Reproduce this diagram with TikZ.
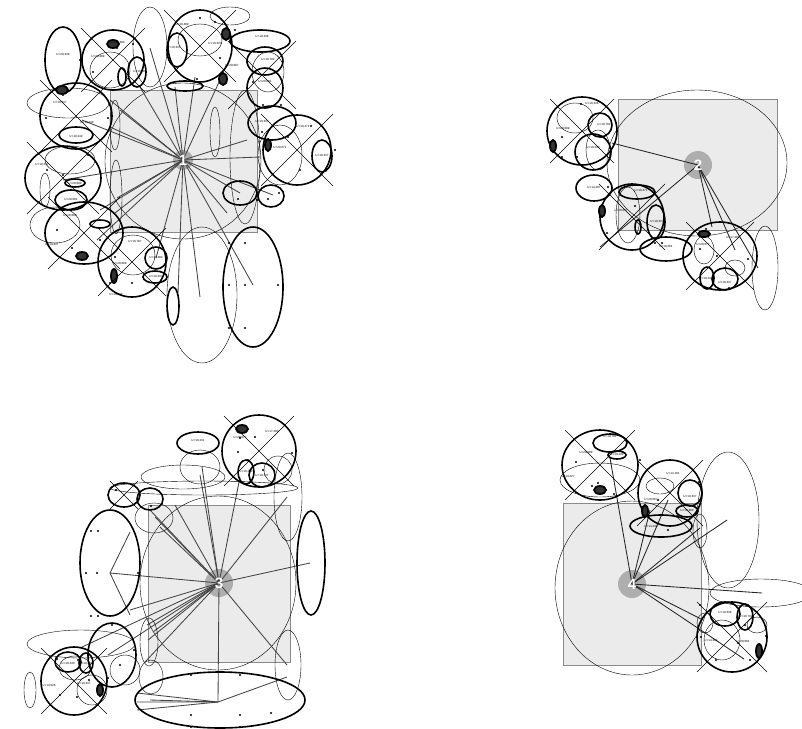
\documentclass[tikz,border=0pt]{standalone}
\usepackage{fontspec}
\setmainfont{Liberation Sans}
\definecolor{sqfill}{HTML}{EBEBEB}
\definecolor{sqline}{HTML}{8A8A8A}
\definecolor{hub}{HTML}{AEAEAE}
\definecolor{ray}{HTML}{454545}
\definecolor{thin}{HTML}{3A3A3A}
\newcommand\ellK[4]{\draw[tk] (#1,#2) ellipse (#3pt and #4pt);}
\newcommand\ellT[4]{\draw[tn] (#1,#2) ellipse (#3pt and #4pt);}
\newcommand\dotD[2]{\fill (#1,#2) circle (1.1pt);}
\newcommand\ringD[4]{\draw[line width=1.8pt,fill=black!80] (#1,#2) ellipse (#3pt and #4pt);}
\newcommand\crossX[3]{\draw[cr] ({#1-#3},{#2-#3}) -- ({#1+#3},{#2+#3}) ({#1-#3},{#2+#3}) -- ({#1+#3},{#2-#3});}
\begin{document}
\begin{tikzpicture}[x=1pt,y=-1pt,
  tk/.style={line width=1.6pt,black},
  tn/.style={line width=0.65pt,thin},
  cr/.style={line width=0.6pt,black},
  rayl/.style={line width=0.85pt,ray},
  sq/.style={draw=sqline,fill=sqfill,line width=1pt},
  hubc/.style={circle,fill=hub,draw=none,inner sep=0pt},
  num/.style={text=white,font=\bfseries\fontsize{15}{15}\selectfont},
  lab/.style={font=\fontsize{3}{3}\selectfont,inner sep=0pt}]
\useasboundingbox (0,0) rectangle (802,728);
\fill[white] (0,0) rectangle (802,728);

% ================= PANEL 1 =================
\draw[sq] (110,90) rectangle (257,232);
\ellT{183}{161}{78}{78}
\node[hubc,minimum size=20pt] (h1) at (183,160) {};
\foreach \p in {(150,48),(175,87),(195,77),(220,80),(140,87),(110,100),(120,110),(110,127),(247,140),(260,157),(273,195),(240,193),(63,180),(117,198),(97,240),(115,213),(178,293),(200,297),(253,285),(227,213),(156,258),(82,120),(100,210)}
  \draw[rayl] (h1.center) -- \p;
\node[num] (n1) at (183,160) {1};
% thin ellipses
\ellT{150}{47}{17}{40}
\ellT{202}{295}{35}{68}
\ellT{68}{103}{41}{15}
\draw[line width=0.9pt,thin] (245,157) ellipse (15pt and 67pt);
\ellT{115}{125}{5}{25}
\ellT{116}{197}{6}{37}
\ellT{215}{132}{5}{25}
\ellT{268}{72}{16}{20}
\ellT{280}{155}{22}{30}
\ellT{110}{70}{20}{18}
\ellT{200}{40}{22}{16}
\ellT{55}{225}{25}{18}
\ellT{70}{160}{25}{14}
\ellT{133}{255}{22}{20}
\ellT{230}{16}{20}{9}
\ellT{45}{190}{5}{17}
% thick ellipses
\ellK{63}{60}{18}{33}
\ellK{113}{60}{31}{30}
\ellK{200}{46}{32}{36}
\ellK{260}{41}{30}{11}
\ellK{265}{61}{18}{14}
\ellK{265}{88}{18}{20}
\ellK{76}{116}{36}{33}
\ellK{63}{178}{38}{32}
\ellK{84}{233}{39}{31}
\ellK{132}{262}{34}{35}
\ellK{297}{150}{34}{35}
\ellK{272}{123}{24}{17}
\ellK{240}{193}{17}{12}
\ellK{271}{196}{13}{11}
\ellK{253}{287}{30}{60}
\ellK{173}{306}{6}{19}
\ellK{185}{86}{18}{5}
\ellK{76}{135}{17}{8}
\ellK{137}{72}{9}{15}
\ellK{177}{50}{10}{17}
\ellK{322}{156}{10}{16}
\ellK{71}{200}{16}{10}
\ellK{156}{258}{11}{11}
\ellK{155}{277}{12}{6}
\ellK{75}{183}{10}{4}
\ellK{100}{224}{10}{4}
\ellK{122}{77}{4}{9}
\ringD{62}{90}{6}{4}
\ringD{226}{34}{4}{6}
\ringD{223}{79}{4}{6}
\ringD{268}{145}{3}{6}
\ringD{82}{256}{6}{4}
\ringD{113}{44}{6}{4}
\ringD{114}{276}{3}{7}
% crosses
\crossX{113}{60}{32}
\crossX{200}{46}{36}
\crossX{76}{116}{36}
\crossX{63}{178}{36}
\crossX{84}{233}{36}
\crossX{132}{262}{34}
\crossX{297}{150}{36}
\crossX{262}{75}{34}
% dots
\foreach \p in {(80,60),(93,72),(133,44),(117,48),(200,18),(215,22),(197,79),(220,58),(235,30),(247,62),(253,82),(263,105),(281,105),(46,118),(108,118),(63,95),(47,170),(63,175),(100,172),(88,155),(57,230),(72,248),(100,240),(115,257),(110,283),(132,283),(250,117),(262,132),(300,170),(288,137),(311,126),(335,150),(229,243),(245,243),(229,285),(245,285),(229,328),(245,328),(278,285),(238,199),(257,200),(268,199),(279,193)}
  \fill \p circle (1.2pt);
% labels
\node[lab] (a1) at (63,55) {U+20,339};
\node[lab] (a2) at (118,43) {U+10,480};
\node[lab] (a3) at (98,57) {U+20,089};
\node[lab] (a4) at (140,72) {U+10,480};
\node[lab] (a5) at (182,25) {U+10,480};
\node[lab] (a6) at (215,44) {U+10,337};
\node[lab] (a7) at (174,48) {U+10,337};
\node[lab] (a8) at (262,37) {U+10,339};
\node[lab] (a9) at (232,66) {U+20,087};
\node[lab] (a10) at (268,60) {U+10,792};
\node[lab] (a11) at (265,82) {U+20,081};
\node[lab] (a12) at (60,103) {U+10,337};
\node[lab] (a13) at (87,123) {U+10,240};
\node[lab] (a14) at (76,137) {U+10,240};
\node[lab] (a15) at (42,165) {U+10,337};
\node[lab] (a16) at (75,184) {U+20,090};
\node[lab] (a17) at (71,200) {U+20,081};
\node[lab] (a18) at (70,216) {U+20,089};
\node[lab] (a19) at (52,245) {U+10,337};
\node[lab] (a20) at (135,242) {U+10,787};
\node[lab] (a21) at (120,264) {U+20,089};
\node[lab] (a22) at (156,258) {U+10,480};
\node[lab] (a23) at (156,277) {U+10,337};
\node[lab] (a24) at (116,295) {U+10,240};
\node[lab] (a25) at (262,122) {U+10,337};
\node[lab] (a26) at (303,127) {U+10,471};
\node[lab] (a27) at (280,148) {U+20,071};
\node[lab] (a28) at (322,156) {U+10,337};

% ================= PANEL 2 =================
\draw[sq] (618,99) rectangle (777,230);
\ellT{697}{163}{90}{73}
\node[hubc,minimum size=28pt] (h2) at (698,165) {};
\foreach \p in {(612,143),(600,247),(712,227),(758,268),(735,250)}
  \draw[line width=0.85pt,black!85] (h2.center) -- \p;
\node[num] (n2) at (698,165) {2};
\ellT{765}{268}{13}{42}
\ellT{575}{118}{18}{15}
\ellT{598}{150}{12}{20}
\ellT{628}{215}{12}{28}
\ellT{704}{250}{10}{14}
\ellT{735}{268}{10}{8}
\ellK{582}{131}{35}{34}
\ellK{600}{125}{12}{12}
\ellK{593}{152}{18}{18}
\ellK{594}{188}{18}{13}
\ellK{632}{217}{32}{33}
\ellK{656}{222}{9}{17}
\ellK{666}{249}{26}{12}
\ellK{720}{256}{37}{34}
\ellK{707}{278}{7}{11}
\ellK{725}{279}{13}{11}
\ellK{637}{192}{18}{7}
\ellK{638}{227}{3}{7}
\ringD{553}{146}{3}{6}
\ringD{602}{211}{3}{6}
\ringD{704}{234}{6}{3}
\crossX{582}{131}{32}
\crossX{632}{217}{33}
\crossX{720}{256}{34}
\foreach \p in {(581,104),(562,137),(562,157),(601,137),(577,157),(610,148),(608,187),(607,233),(635,206),(655,243),(662,243),(700,249),(717,256),(748,259),(706,229),(729,288)}
  \fill \p circle (1.2pt);
\node[lab] (b1) at (592,104) {U+10,339};
\node[lab] (b2) at (563,129) {U+20,089};
\node[lab] (b3) at (604,125) {U+10,792};
\node[lab] (b4) at (593,148) {U+10,240};
\node[lab] (b5) at (594,188) {U+14,287};
\node[lab] (b6) at (641,191) {U+10,471};
\node[lab] (b7) at (621,211) {U+20,077};
\node[lab] (b8) at (657,222) {U+10,337};
\node[lab] (b9) at (666,247) {U+10,081};
\node[lab] (b10) at (703,245) {U+20,077};
\node[lab] (b11) at (733,238) {U+17,280};
\node[lab] (b12) at (706,279) {U+10,240};
\node[lab] (b13) at (725,283) {U+10,337};

% ================= PANEL 3 =================
\draw[sq] (148,505) rectangle (290,662);
\ellT{218}{583}{78}{87}
\node[hubc,minimum size=28pt] (h3) at (219,583) {};
\foreach \p in {(202,467),(240,477),(287,497),(155,517),(150,510),(175,505),(160,527),(310,563),(110,573),(287,665),(218,702),(148,640),(145,662),(80,648),(108,655),(147,625),(153,632),(200,475),(130,610)}
  \draw[rayl] (h3.center) -- \p;
\node[num] (n3) at (219,583) {3};
% fans inside ellipses
\draw[rayl] (130,532) -- (110,573) -- (130,615);
\draw[rayl] (137,693) -- (218,702) -- (137,702);
\draw[rayl] (137,710) -- (218,702) -- (287,677);
\draw[rayl] (150,700) -- (218,702);
% thin ellipses
\ellT{183}{477}{42}{12}
\ellT{204}{488}{94}{7}
\ellT{200}{467}{20}{17}
\ellT{154}{518}{19}{15}
\ellT{288}{497}{14}{44}
\ellT{288}{665}{13}{35}
\ellT{81}{644}{54}{14}
\ellT{149}{642}{9}{24}
\ellT{151}{677}{12}{17}
\ellT{92}{690}{15}{15}
\ellT{75}{668}{16}{12}
\ellT{125}{670}{15}{15}
\ellT{30}{690}{6}{18}
\ellT{278}{470}{14}{14}
% thick ellipses
\ellK{110}{563}{30}{53}
\ellK{311}{563}{14}{52}
\ellK{220}{700}{85}{28}
\ellK{259}{451}{37}{36}
\ellK{198}{443}{21}{11}
\ellK{124}{495}{16}{12}
\ellK{150}{499}{13}{11}
\ellK{246}{472}{8}{12}
\ellK{262}{475}{13}{12}
\ellK{112}{655}{24}{32}
\ellK{74}{681}{33}{34}
\ellK{68}{662}{13}{10}
\ellK{86}{663}{7}{10}
\ringD{242}{429}{6}{4}
\ringD{100}{690}{3}{6}
\crossX{259}{451}{35}
\crossX{74}{681}{33}
\crossX{124}{495}{14}
\foreach \p in {(91,531),(98,531),(86,573),(97,573),(91,616),(98,616),(138,573),(191,675),(240,675),(191,715),(240,715),(191,727),(240,727),(271,713),(240,438),(255,437),(238,452),(248,460),(292,453),(263,470),(116,490),(151,506),(112,625),(134,650),(108,678),(89,680),(60,695),(77,697),(57,659),(78,660),(120,665)}
  \fill \p circle (1.2pt);
\node[lab] (c1) at (198,441) {U+10,231};
\node[lab] (c2) at (272,432) {U+17,280};
\node[lab] (c3) at (240,438) {U+20,077};
\node[lab] (c4) at (246,472) {U+10,240};
\node[lab] (c5) at (262,476) {U+10,337};
\node[lab] (c6) at (68,664) {U+10,240};
\node[lab] (c7) at (86,664) {U+10,480};
\node[lab] (c8) at (49,686) {U+14,028};
\node[lab] (c9) at (84,684) {U+10,337};

% ================= PANEL 4 =================
\draw[sq] (563,503) rectangle (701,665);
\ellT{632}{588}{77}{87}
\node[hubc,minimum size=28pt] (h4) at (632,584) {};
\foreach \p in {(610,458),(650,510),(668,500),(727,520),(762,593),(703,620),(744,659),(700,528)}
  \draw[line width=0.85pt,black!85] (h4.center) -- \p;
\node[num] (n4) at (632,584) {4};
\ellT{728}{520}{31}{68}
\ellT{761}{593}{51}{14}
\ellT{600}{480}{40}{17}
\ellT{700}{531}{7}{17}
\ellT{660}{486}{14}{8}
\ellT{722}{640}{18}{20}
\ellT{705}{623}{8}{10}
\ellT{757}{625}{10}{8}
\ellK{600}{465}{38}{35}
\ellK{610}{443}{17}{9}
\ellK{617}{455}{9}{4}
\ellK{670}{493}{32}{33}
\ellK{690}{493}{12}{13}
\ellK{687}{511}{11}{6}
\ellK{661}{526}{31}{11}
\ellK{732}{637}{35}{35}
\ellK{725}{614}{15}{12}
\ellK{745}{617}{8}{13}
\ringD{600}{490}{6}{4}
\ringD{645}{511}{3}{6}
\ringD{759}{651}{3}{7}
\crossX{600}{465}{35}
\crossX{670}{493}{33}
\crossX{732}{637}{35}
\foreach \p in {(576,462),(598,483),(592,486),(614,494),(640,460),(658,500),(677,516),(668,530),(685,505),(699,482),(701,637),(716,660),(750,660),(766,636),(738,643),(745,625),(700,605)}
  \fill \p circle (1.2pt);
\node[lab] (d1) at (610,437) {U+10,792};
\node[lab] (d2) at (586,453) {U+20,089};
\node[lab] (d3) at (617,455) {U+10,240};
\node[lab] (d4) at (568,477) {U+14,227};
\node[lab] (d5) at (673,474) {U+14,181};
\node[lab] (d6) at (651,500) {U+20,067};
\node[lab] (d7) at (690,497) {U+10,337};
\node[lab] (d8) at (687,511) {U+10,480};
\node[lab] (d9) at (651,527) {U+14,240};
\node[lab] (d10) at (725,613) {U+10,339};
\node[lab] (d11) at (746,617) {U+10,792};
\node[lab] (d12) at (711,641) {U+14,281};
\node[lab] (d13) at (743,642) {U+20,081};
\end{tikzpicture}
\end{document}
